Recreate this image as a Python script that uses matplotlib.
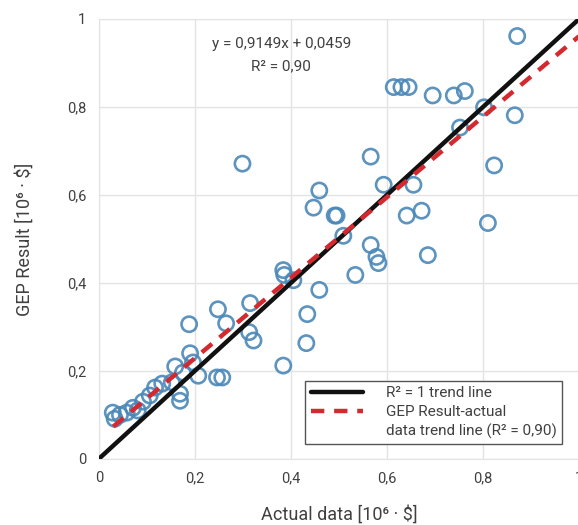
import matplotlib
matplotlib.use("Agg")
import matplotlib.pyplot as plt
import numpy as np

plt.rcParams['font.family'] = ['Roboto', 'DejaVu Sans']

# actual vs predicted values
actual = [0.029, 0.033, 0.044, 0.058, 0.071, 0.081, 0.092, 0.106, 0.117, 0.132,
          0.152, 0.159, 0.175, 0.169, 0.169, 0.190, 0.196, 0.207, 0.246, 0.257,
          0.188, 0.248, 0.265, 0.315, 0.313, 0.322, 0.384, 0.386, 0.405, 0.384,
          0.432, 0.434, 0.459, 0.534, 0.566, 0.578, 0.582, 0.685, 0.509, 0.491,
          0.495, 0.447, 0.459, 0.593, 0.655, 0.641, 0.672, 0.810, 0.566, 0.299,
          0.823, 0.752, 0.802, 0.866, 0.695, 0.739, 0.762, 0.614, 0.630, 0.645,
          0.871]
gep = [0.105, 0.091, 0.100, 0.105, 0.116, 0.110, 0.130, 0.144, 0.162, 0.171,
       0.174, 0.210, 0.196, 0.148, 0.132, 0.240, 0.219, 0.189, 0.185, 0.185,
       0.306, 0.340, 0.308, 0.354, 0.288, 0.269, 0.429, 0.418, 0.406, 0.212,
       0.263, 0.329, 0.384, 0.418, 0.486, 0.459, 0.445, 0.463, 0.507, 0.553,
       0.553, 0.571, 0.610, 0.623, 0.623, 0.553, 0.564, 0.536, 0.687, 0.671,
       0.667, 0.753, 0.799, 0.781, 0.826, 0.826, 0.836, 0.845, 0.845, 0.845,
       0.961]

slope = 0.9149
intercept = 0.0459
ticks = [0, 0.2, 0.4, 0.6, 0.8, 1]
tick_labels = ["0", "0,2", "0,4", "0,6", "0,8", "1"]

txt = '#404040'
fig = plt.figure(figsize=(5.78, 5.25), dpi=100)
ax = fig.add_axes([0.171, 0.126, 0.831, 0.838])

ax.scatter(actual, gep, s=120, facecolors='none', edgecolors='#4a88b8',
           linewidths=1.9, alpha=0.9, zorder=2)

xx = np.array([0, 1])
ax.plot(xx, xx, color='#111111', lw=3.2, zorder=3, label='R² = 1 trend line',
        solid_capstyle='round')
xr = np.array([0.03, 1])
ax.plot(xr, slope * xr + intercept, color='#d42a2f', lw=3.2, ls=(0, (3, 2.2)),
        zorder=4, label='GEP Result-actual')
# second line of the legend label, no handle
ax.plot([], [], color='none', label='data trend line (R² = 0,90)')

ax.text(0.38, 0.943, 'y = 0,9149x + 0,0459', ha='center', va='center',
        fontsize=11, color=txt)
ax.text(0.38, 0.893, 'R² = 0,90', ha='center', va='center',
        fontsize=11, color=txt)

ax.set_xlim(0, 1)
ax.set_ylim(0, 1)
ax.set_xticks(ticks)
ax.set_xticklabels(tick_labels)
ax.set_yticks(ticks)
ax.set_yticklabels(tick_labels)
ax.tick_params(length=0, labelsize=10.5, colors=txt, pad=9)
ax.grid(color='#e3e3e3', lw=1)
ax.set_axisbelow(True)
for s in ax.spines.values():
    s.set_color('#e3e3e3')

ax.set_xlabel('Actual data [10⁶ · $]', fontsize=13, color=txt, labelpad=14)
ax.set_ylabel('GEP Result [10⁶ · $]', fontsize=13, color=txt, labelpad=24)

leg = ax.legend(loc='lower right', bbox_to_anchor=(0.98, 0.016), fontsize=11,
                fancybox=False, edgecolor='#555555', framealpha=1,
                handlelength=3.4, handletextpad=1.5, labelspacing=0.3,
                labelcolor=txt, borderpad=0.35)
leg.get_frame().set_linewidth(1)

fig.savefig('out.png', dpi=100)
